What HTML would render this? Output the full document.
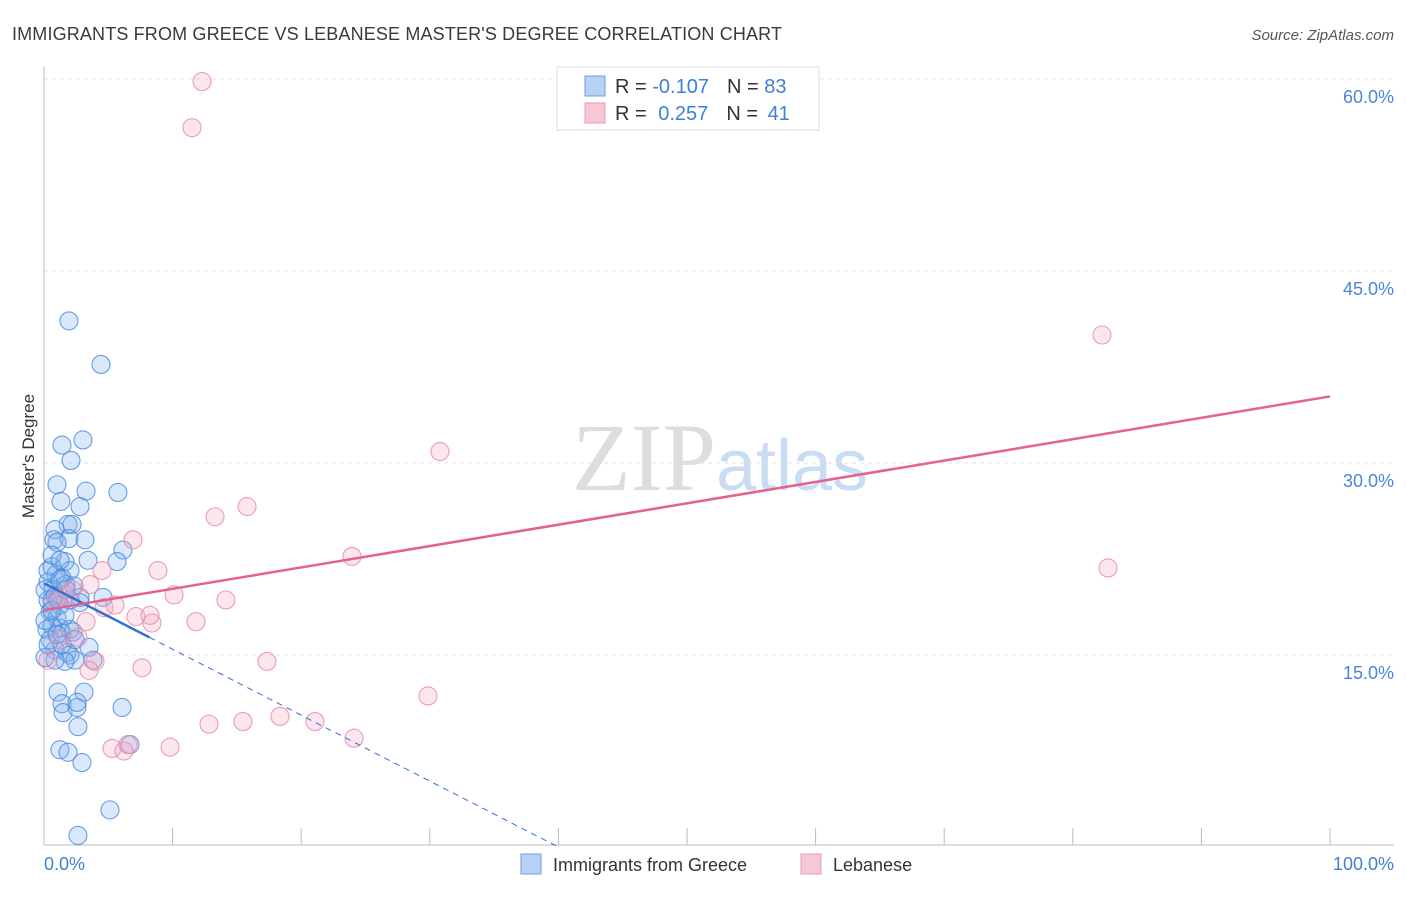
<!DOCTYPE html>
<html><head><meta charset="utf-8"><style>
body{margin:0;background:#fff;font-family:"Liberation Sans",sans-serif;}
svg text{font-family:"Liberation Sans",sans-serif;}
</style></head><body>
<svg id="chart" width="1406" height="892" xmlns="http://www.w3.org/2000/svg">
<text x="12" y="40" font-size="18" fill="#3a3a3a" textLength="770">IMMIGRANTS FROM GREECE VS LEBANESE MASTER'S DEGREE CORRELATION CHART</text>
<text x="1394" y="40" font-size="15" fill="#555" text-anchor="end" font-style="italic">Source: ZipAtlas.com</text>
<text x="720" y="490" font-size="96" text-anchor="middle"><tspan fill="#ddd" font-family="Liberation Serif">ZIP</tspan><tspan fill="#c9dcf3" font-size="72">atlas</tspan></text>
<g id="grid"></g>
<g id="axes"></g>
<g id="pts"></g>
<g id="trends"></g>
<text transform="translate(34,456) rotate(-90)" font-size="17" fill="#333" text-anchor="middle">Master's Degree</text>
<text x="44" y="870" font-size="18" fill="#3f7fd6">0.0%</text>
<text x="1394" y="870" font-size="18" fill="#3f7fd6" text-anchor="end">100.0%</text>
<g>
<rect x="557" y="67" width="262" height="63" fill="#fff" stroke="#ddd"/>
<rect x="585" y="76" width="20" height="20" fill="#b7d2f4" stroke="#6b9fe2"/>
<rect x="585" y="103" width="20" height="20" fill="#f8c7d6" stroke="#eb9ab5"/>
<text x="615" y="93" font-size="20" fill="#333">R = <tspan fill="#3f7fd6">-0.107</tspan><tspan dx="18">N = </tspan><tspan fill="#3f7fd6">83</tspan></text>
<text x="615" y="120" font-size="20" fill="#333">R = <tspan fill="#3f7fd6" dx="6">0.257</tspan><tspan dx="18">N = </tspan><tspan fill="#3f7fd6" dx="4">41</tspan></text>
</g>
<g>
<rect x="521" y="854" width="20" height="20" fill="#b7d2f4" stroke="#6b9fe2"/>
<text x="553" y="871" font-size="18" fill="#333">Immigrants from Greece</text>
<rect x="801" y="854" width="20" height="20" fill="#f8c7d6" stroke="#eb9ab5"/>
<text x="833" y="871" font-size="18" fill="#333">Lebanese</text>
</g>
</svg>
<script>
const yTicks=[15,30,45,60];
const yTickLabels=["15.0%","30.0%","45.0%","60.0%"];
const xTicks=[10,20,30,40,50,60,70,80,90,100];
const blueX=[1.94,4.43,1.40,3.03,2.10,1.01,3.27,5.75,1.32,2.80,1.87,2.18,0.86,0.78,1.94,1.01,6.14,3.42,5.68,1.63,0.62,2.02,0.93,1.40,0.31,1.71,2.33,0.70,2.80,4.59,2.80,0.31,1.24,0.47,1.01,0.62,1.24,0.23,2.26,1.40,2.02,3.50,0.86,1.79,2.02,3.81,2.41,1.63,0.08,1.09,3.11,1.40,1.48,2.57,2.57,6.07,2.64,1.24,1.87,2.95,6.69,5.13,2.64,0.62,0.08,0.86,0.47,0.31,1.24,0.62,1.09,1.63,0.31,0.86,1.40,2.02,0.08,1.01,3.19,1.71,0.62,2.41,1.24];
const blueY=[41.1,37.7,31.4,31.8,30.2,28.3,27.8,27.7,27.0,26.6,25.2,25.2,24.8,24.0,24.1,23.8,23.2,22.4,22.3,22.3,21.9,21.6,21.3,21.0,20.7,20.5,20.4,20.1,19.5,19.5,19.1,19.3,18.9,18.4,17.9,17.3,17.1,17.0,16.8,16.7,17.0,15.6,15.4,15.2,15.0,14.6,14.6,14.5,14.8,12.1,12.1,11.2,10.5,10.9,11.3,10.9,9.4,7.6,7.4,6.6,8.0,2.9,0.9,19.3,20.1,19.6,16.2,21.6,20.9,22.8,19.3,18.1,15.8,14.6,15.8,19.3,17.7,16.6,24.0,20.1,18.5,16.2,22.4];
const pinkX=[12.29,11.51,82.27,30.79,15.79,13.30,6.92,23.95,82.74,4.51,8.86,10.11,14.15,4.67,7.15,8.24,8.40,11.82,3.27,2.64,17.34,3.97,3.50,7.62,1.24,0.31,29.86,18.35,21.07,15.47,12.83,24.11,9.80,6.53,5.29,6.22,2.18,1.63,3.58,0.93,5.52];
const pinkY=[59.8,56.2,40.0,30.9,26.6,25.8,24.0,22.7,21.8,21.6,21.6,19.7,19.3,18.7,18.0,18.1,17.5,17.6,17.6,16.4,14.5,14.5,13.8,14.0,16.2,14.6,11.8,10.2,9.8,9.8,9.6,8.5,7.8,8.0,7.7,7.5,20.1,19.7,20.5,19.3,18.9];
const blueTrend=[20.6,-0.515];
const pinkTrend=[18.5,0.167];
const NS="http://www.w3.org/2000/svg";
const sx=v=>44+v*12.86, sy=v=>847-v*12.8;
function mk(tag,attrs,parent){const e=document.createElementNS(NS,tag);for(const k in attrs)e.setAttribute(k,attrs[k]);document.getElementById(parent).appendChild(e);return e;}
yTicks.forEach((t,i)=>{
 const l=mk('line',{x1:44,x2:1394,y1:sy(t),y2:sy(t),stroke:'#e2e2e2','stroke-dasharray':'4,4'},'grid');
 
 
 const tx=mk('text',{x:1394,y:sy(t)+24,'font-size':18,fill:'#4a86d8','text-anchor':'end'},'grid');
 tx.textContent=yTickLabels[i];
 
 
});
const ax=mk('line',{x1:44,x2:44,y1:67,y2:845,stroke:'#bbb'},'axes');


const bx=mk('line',{x1:44,x2:1394,y1:845,y2:845,stroke:'#bbb'},'axes');


xTicks.forEach(t=>{
 const l=mk('line',{x1:sx(t),x2:sx(t),y1:828,y2:845,stroke:'#bbb'},'axes');
 
 
});
blueX.forEach((x,i)=>{
 const c=mk('circle',{cx:sx(x),cy:sy(blueY[i]),r:9,fill:'rgba(130,178,238,0.3)',stroke:'rgba(70,135,220,0.8)','stroke-width':1.1},'pts');
 
 
});
pinkX.forEach((x,i)=>{
 const c=mk('circle',{cx:sx(x),cy:sy(pinkY[i]),r:9,fill:'rgba(245,165,195,0.28)',stroke:'rgba(232,140,172,0.85)','stroke-width':1.1},'pts');
 
 
});
const bEnd=8.2, bZero=-blueTrend[0]/blueTrend[1];
const b1=mk('line',{x1:sx(0),y1:sy(blueTrend[0]),x2:sx(bEnd),y2:sy(blueTrend[0]+blueTrend[1]*bEnd),stroke:'#2f6fd6','stroke-width':2.5},'trends');


const b2=mk('line',{x1:sx(bEnd),y1:sy(blueTrend[0]+blueTrend[1]*bEnd),x2:sx(bZero),y2:sy(0),stroke:'#2f6fd6','stroke-width':1,'stroke-dasharray':'6,5'},'trends');


const p1=mk('line',{x1:sx(0),y1:sy(pinkTrend[0]),x2:sx(100),y2:sy(pinkTrend[0]+pinkTrend[1]*100),stroke:'#e4608e','stroke-width':2.5},'trends');


</script>
</body></html>
